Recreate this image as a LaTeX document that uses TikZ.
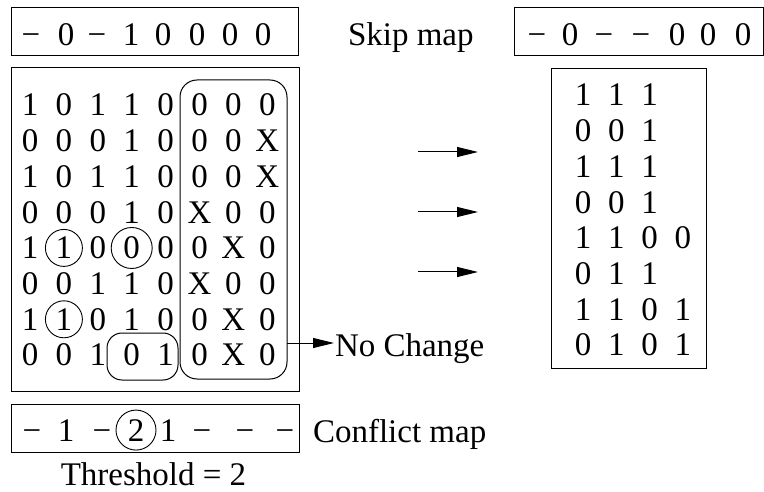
\documentclass[tikz,border=0pt]{standalone}
\usepackage{fontspec}
\setmainfont{Liberation Serif}
\usetikzlibrary{arrows.meta}
\begin{document}
\begin{tikzpicture}[x=1pt,y=-1pt,
  every node/.style={font=\fontsize{33}{36}\selectfont, inner sep=0pt, outer sep=0pt},
  glyph/.style={anchor=base},
  label/.style={anchor=base west},
  frame/.style={draw, line width=1pt, minimum width=#1},
  rframe/.style={draw, line width=1pt, rounded corners=#1},
  ring/.style={draw, circle, line width=0.9pt, minimum size=#1},
  conn/.style={line width=1pt, -{Triangle[length=21pt,width=10pt]}}]
\useasboundingbox (0,0) rectangle (764,492);

% frames
\node[frame=287, minimum height=48] (skipL) at (154.5,32) {};
\node[frame=249, minimum height=48] (skipR) at (638.5,32) {};
\node[frame=288, minimum height=323] (mat) at (155,229.5) {};
\node[frame=155, minimum height=299] (res) at (628.5,218.5) {};
\node[frame=288, minimum height=48] (conf) at (155,428) {};

% skip maps
\foreach \v/\px [count=\i] in {−/31, 0/66, −/97, 1/131, 0/163, 0/197, 0/230, 0/263}
  \node[glyph] (sl\i) at (\px,46) {\v};
\foreach \v/\px [count=\i] in {−/537, 0/570, −/604, −/641, 0/677, 0/708, 0/743}
  \node[glyph] (sr\i) at (\px,46) {\v};
\node[label] (skiplbl) at (348,46) {Skip map};

% original matrix
\foreach \row [count=\r] in {{1,0,1,1,0,0,0,0},{0,0,0,1,0,0,0,X},{1,0,1,1,0,0,0,X},
    {0,0,0,1,0,X,0,0},{1,1,0,0,0,0,X,0},{0,0,1,1,0,X,0,0},{1,1,0,1,0,0,X,0},{0,0,1,0,1,0,X,0}}
  \foreach \v [count=\c] in \row
    \node[glyph] (L\r-\c) at ({30+33.9*(\c-1)},{116+35.7*(\r-1)}) {\v};

% marked entries
\node[ring=37] (m1) at (L5-2.center) {};
\node[ring=41] (m2) at (L5-4.center) {};
\node[ring=37] (m3) at (L7-2.center) {};
\draw[rframe=17pt] (180,80) rectangle (287,379);
\coordinate (grpE) at (287,343);
\draw[rframe=15pt] (107,333) rectangle (178,380);

% reduced matrix
\foreach \row [count=\r] in {{1,1,1},{0,0,1},{1,1,1},{0,0,1},{1,1,0,0},{0,1,1},{1,1,0,1},{0,1,0,1}}
  \foreach \v [count=\c] in \row
    \node[glyph] (R\r-\c) at ({583+33.3*(\c-1)},{106+35.7*(\r-1)}) {\v};

% arrows
\foreach \i/\yy in {1/152, 2/212, 3/272} {
  \coordinate (as\i) at (418,\yy);
  \coordinate (ae\i) at (478,\yy);
  \draw[conn] (as\i) -- (ae\i);
}
\node[label] (nochg) at (335,356) {No Change};
\coordinate (ncin) at (334,343);
\draw[conn] (grpE) -- (ncin);

% conflict map
\foreach \v/\px [count=\i] in {−/32, 1/66, −/102, 1/168, −/202, −/245, −/285}
  \node[glyph] (c\i) at (\px,441) {\v};
\node[glyph, ring=40] (c2circ) at (136,441) {2};
\node[label] (conflbl) at (313,442) {Conflict map};

\node[glyph, text depth=0pt] (thr) at (153.5,485) {Threshold = 2};
\end{tikzpicture}
\end{document}
